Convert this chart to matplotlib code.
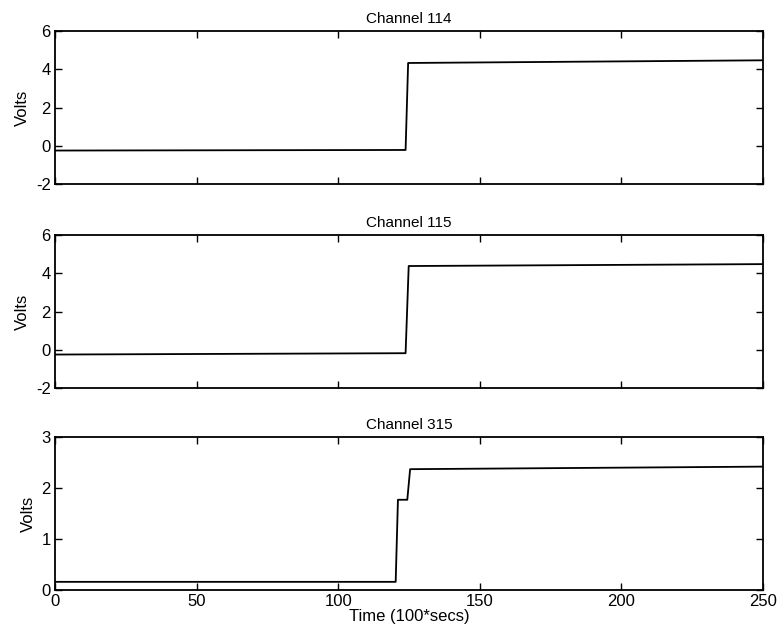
import matplotlib
matplotlib.use("Agg")
import matplotlib.pyplot as plt

plt.rcParams['font.family'] = ['Liberation Sans', 'DejaVu Sans']
plt.rcParams['axes.unicode_minus'] = False

titles = ["Channel 114", "Channel 115", "Channel 315"]

t114 = [0, 123.8, 124.7, 250]
v114 = [-0.25, -0.22, 4.33, 4.47]

t115 = [0, 123.8, 124.9, 250]
v115 = [-0.25, -0.18, 4.38, 4.48]

t315 = [0, 120.3, 121.1, 124.4, 125.4, 250]
v315 = [0.16, 0.16, 1.77, 1.77, 2.37, 2.42]

ylims = [(-2, 6), (-2, 6), (0, 3)]
yticks = [[-2, 0, 2, 4, 6], [-2, 0, 2, 4, 6], [0, 1, 2, 3]]
xticks = [0, 50, 100, 150, 200, 250]

series = [(t114, v114), (t115, v115), (t315, v315)]

fig = plt.figure(figsize=(7.82, 6.32), dpi=100)
left, width, height = 0.0703, 0.9054, 0.242
bottoms = [1 - 184/632, 1 - 388/632, 1 - 590/632]

for i in range(3):
    ax = fig.add_axes([left, bottoms[i], width, height])
    t, v = series[i]
    ax.plot(t, v, color='black', lw=1.3)
    ax.set_xlim(0, 250)
    ax.set_ylim(*ylims[i])
    ax.set_yticks(yticks[i])
    ax.set_xticks(xticks)
    ax.tick_params(direction='in', top=True, right=True, length=5, width=1,
                   labelsize=12, pad=3)
    for s in ax.spines.values():
        s.set_linewidth(1.3)
    ax.set_title(titles[i], fontsize=11, pad=6)
    ax.set_ylabel("Volts", fontsize=12, labelpad=4)
    if i < 2:
        ax.set_xticklabels([])
    else:
        ax.set_xlabel("Time (100*secs)", fontsize=12, labelpad=0)

fig.savefig("out.png", dpi=100)
